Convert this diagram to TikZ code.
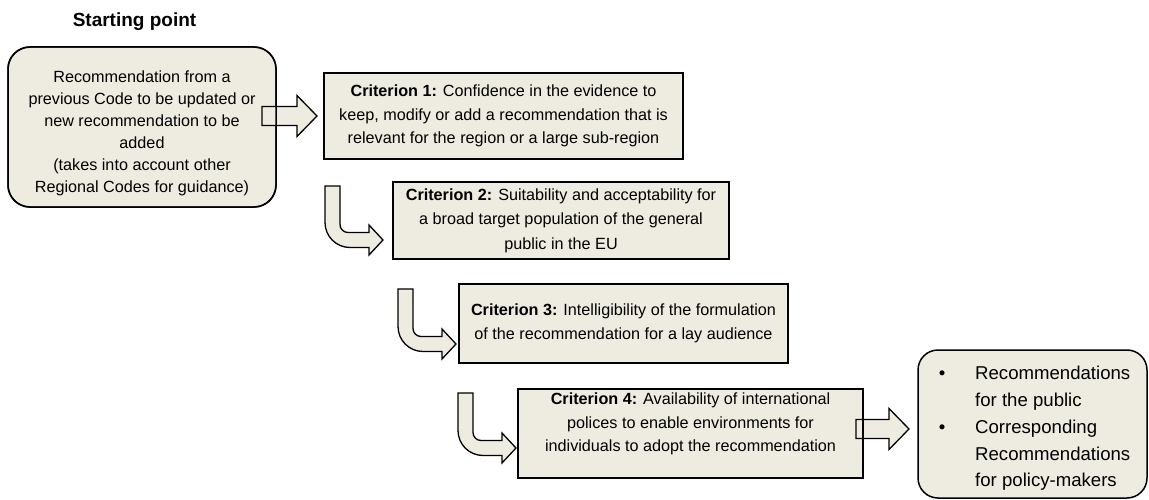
\documentclass[tikz,border=0pt]{standalone}
\usepackage{fontspec}
\setmainfont{Liberation Sans}
\usetikzlibrary{calc}
\definecolor{beige}{HTML}{EEECE1}
\newcommand{\bentarrow}[5]{% #1 shaft left x, #2 top y, #3 band centre y, #4 head base x, #5 tip x
  \draw[blockarrow] (#1,#2) -- (#1,#3+7.5-25) arc[start angle=180,end angle=90,radius=25]
    -- (#4,#3+7.5) -- (#4,#3+15) -- (#5,#3) -- (#4,#3-15) -- (#4,#3-7.5)
    -- (#1+15+8,#3-7.5) arc[start angle=90,end angle=180,radius=8] -- (#1+15,#2) -- cycle;}
\newcommand{\straightarrow}[4]{% #1 left x, #2 centre y, #3 head base x, #4 tip x
  \draw[blockarrow] (#1,#2-9.5) -- (#3,#2-9.5) -- (#3,#2-20.5) -- (#4,#2)
    -- (#3,#2+20.5) -- (#3,#2+9.5) -- (#1,#2+9.5) -- cycle;}
\begin{document}
\begin{tikzpicture}[x=1pt,y=-1pt,
  box/.style={draw=black, fill=beige, line width=1.5pt, inner sep=0pt, outer sep=0pt,
              align=center, font=\fontsize{16.2}{23.5}\selectfont},
  rbox/.style={box, rounded corners=22pt},
  txt/.style={align=center, inner sep=0pt},
  blockarrow/.style={draw=black, fill=beige, line width=1.3pt, line join=miter}]
\useasboundingbox (0,0) rectangle (1149,500);

\node[font=\bfseries\fontsize{19}{22}\selectfont] (title) at (134.5,22) {Starting point};

% boxes
\node[rbox, minimum width=268pt, minimum height=160pt] (start) at (142,127) {};
\node[txt, font=\fontsize{16.2}{22}\selectfont] (startt) at (142,133)
  {Recommendation from a\\previous Code to be updated or\\new recommendation to be\\added\\(takes into account other\\Regional Codes for guidance)};

\node[box, minimum width=359pt, minimum height=86pt] (c1) at (503.5,116)
  {\textbf{Criterion 1:} Confidence in the evidence to\\keep, modify or add a recommendation that is\\relevant for the region or a large sub-region};

\node[box, minimum width=336pt, minimum height=77pt, font=\fontsize{16.2}{24.5}\selectfont] (c2) at (561,220.5)
  {\textbf{Criterion 2:} Suitability and acceptability for\\a broad target population of the general\\public in the EU};

\node[box, minimum width=329pt, minimum height=79pt] (c3) at (623.5,323.5)
  {\textbf{Criterion 3:} Intelligibility of the formulation\\of the recommendation for a lay audience};

\node[box, minimum width=345pt, minimum height=89pt] (c4) at (690.5,433.5) {};
\node[txt, font=\fontsize{16.2}{23.5}\selectfont] (c4t) at (690.5,424)
  {\textbf{Criterion 4:} Availability of international\\polices to enable environments for\\individuals to adopt the recommendation};

\node[rbox, rounded corners=20pt, minimum width=229pt, minimum height=148pt] (final) at (1032.5,424) {};
\node[anchor=west, align=left, inner sep=0pt, font=\fontsize{18.6}{26.7}\selectfont] (finalt) at (938.75,428.5)
  {\makebox[36.25pt][l]{\textbullet}Recommendations\\\hspace*{36.25pt}for the public\\\makebox[36.25pt][l]{\textbullet}Corresponding\\\hspace*{36.25pt}Recommendations\\\hspace*{36.25pt}for policy-makers};

% arrows
\straightarrow{262}{116}{297}{317}
\straightarrow{856}{429}{889}{909}
\bentarrow{325}{186}{240}{369}{383}
\bentarrow{398}{289}{344}{442}{456}
\bentarrow{458}{393}{448}{502}{516}

% borders over the arrows
\draw[line width=1.5pt, rounded corners=22pt] (start.south west) rectangle (start.north east);
\draw[line width=1.5pt] (c4.south west) rectangle (c4.north east);
\end{tikzpicture}
\end{document}
